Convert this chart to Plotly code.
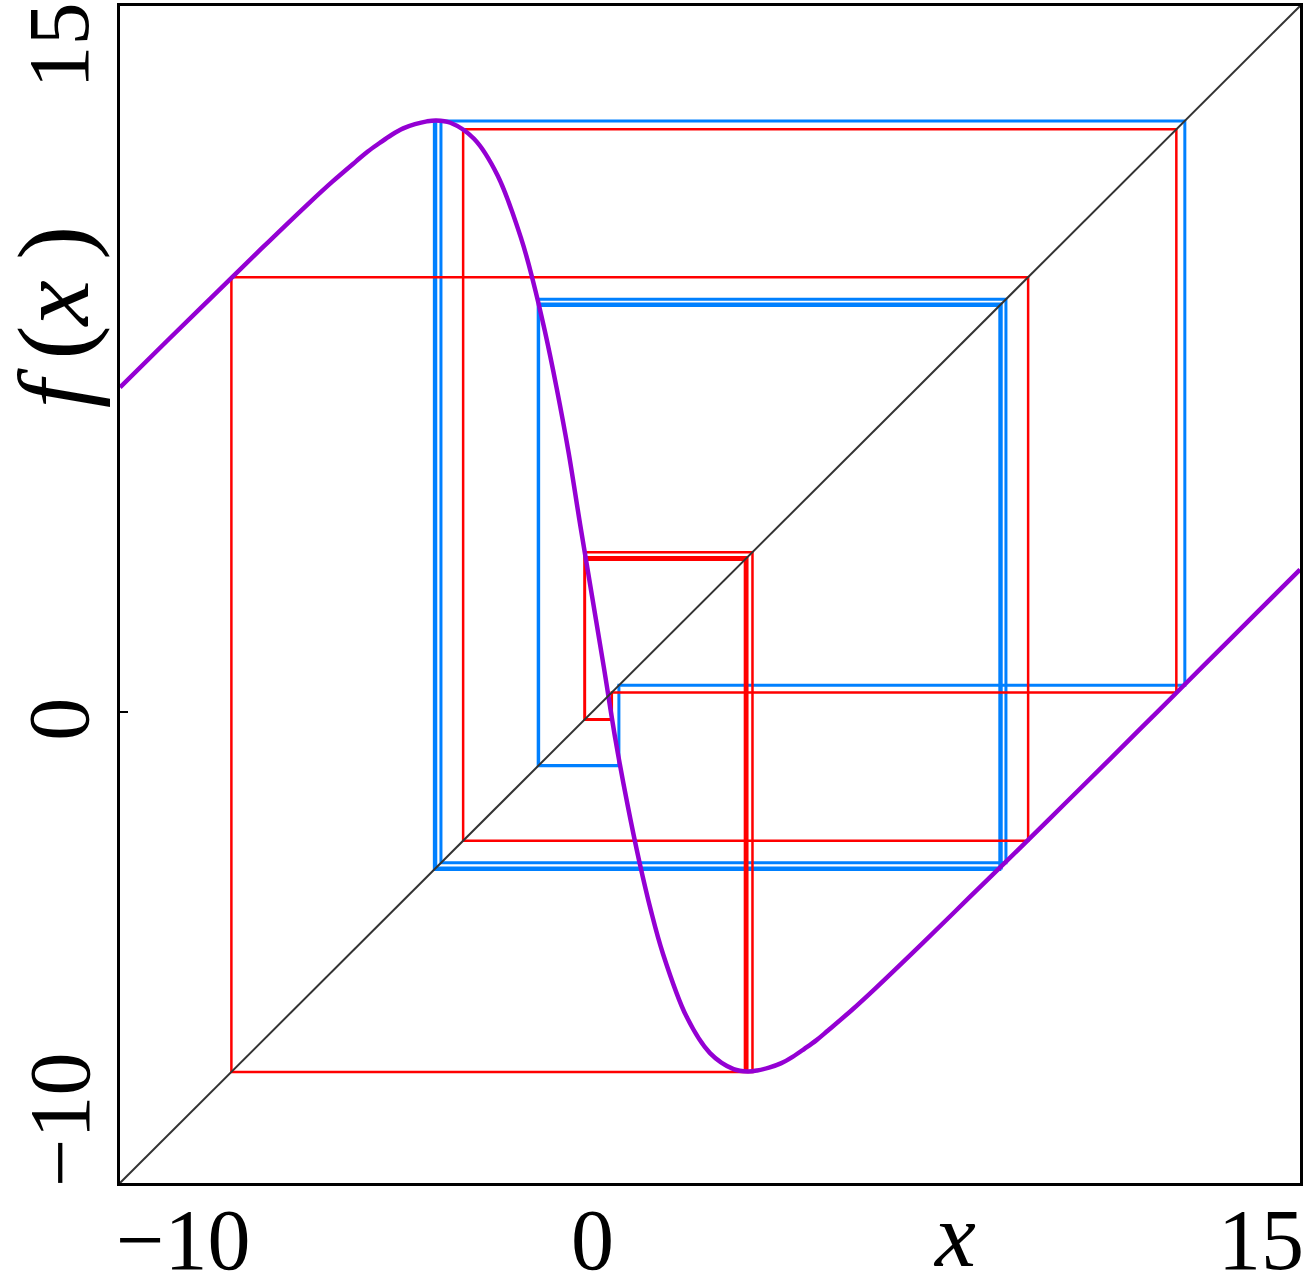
import plotly.graph_objects as go

# ---- data ----
curve_x = [-10, -9, -8, -7, -6, -5.5, -5, -4.75, -4.5, -4.25, -4, -3.75, -3.5, -3.3, -3,
           -2.5, -2, -1.5, -1.25, -1, -0.75, -0.5, -0.25, 0, 0.25, 0.5, 0.75, 1, 1.25,
           1.5, 2, 2.5, 3, 3.3, 3.5, 3.75, 4, 4.25, 4.5, 4.75, 5, 5.5, 6, 7, 8, 9, 10,
           11, 12, 13, 14, 15]
curve_y = [6.90, 7.89, 8.87, 9.85, 10.81, 11.27, 11.70, 11.91, 12.09, 12.26, 12.40, 12.49,
           12.55, 12.57, 12.52, 12.18, 11.40, 10.06, 9.16, 8.10, 6.89, 5.54, 3.98, 2.47,
           0.96, -0.60, -1.95, -3.16, -4.22, -5.12, -6.46, -7.24, -7.58, -7.63, -7.61,
           -7.55, -7.46, -7.32, -7.15, -6.97, -6.76, -6.33, -5.87, -4.91, -3.93, -2.95,
           -1.96, -0.97, 0.03, 1.03, 2.03, 3.03]

# iterates of the two cobweb orbits
red_orbit = [-0.15, 3.24, -7.64, 9.24, -2.73, 12.38, 0.42, -0.16, 3.29, -7.64, 9.24,
             -2.73, 12.38, 0.42, -0.15, 3.40, -7.64, 9.24, -2.73, 12.38, 0.42, -0.16]
blue_orbit = [-1.13, 8.64, -3.34, 12.56, 0.57, -1.13, 8.67, -3.31, 12.56, 0.57, -1.14,
              8.77, -3.20, 12.56, 0.57, -1.13]

diag = [-10, 15]
x_range = [-10, 15]
y_range = [-10, 15]
x_tick_vals = [-10, 0, 15]
x_tick_text = ["\u221210", "0", "15"]
y_tick_vals = [-10, 0, 15]
y_tick_text = ["\u221210", "0", "15"]


def cobweb(orbit):
    xs, ys = [orbit[0]], [orbit[0]]
    for a, b in zip(orbit[:-1], orbit[1:]):
        xs += [a, b]
        ys += [b, b]
    return xs, ys


FONT = "Liberation Serif, Times New Roman, serif"
fig = go.Figure()

bx, by = cobweb(blue_orbit)
fig.add_trace(go.Scatter(x=bx, y=by, mode="lines",
                         line=dict(color="#0080ff", width=3), hoverinfo="skip"))
rx, ry = cobweb(red_orbit)
fig.add_trace(go.Scatter(x=rx, y=ry, mode="lines",
                         line=dict(color="#ff0000", width=2.5), hoverinfo="skip"))
fig.add_trace(go.Scatter(x=curve_x, y=curve_y, mode="lines",
                         line=dict(color="#9400d3", width=4.5, shape="spline", smoothing=1.0),
                         hoverinfo="skip"))
fig.add_trace(go.Scatter(x=diag, y=diag, mode="lines",
                         line=dict(color="#333333", width=2), hoverinfo="skip"))

ann = []
# x tick labels
for v, t in zip(x_tick_vals, x_tick_text):
    if v == x_range[0]:
        xa, xs = "left", -6
    elif v == x_range[1]:
        xa, xs = "right", 6
    else:
        xa, xs = "center", 0
    ann.append(dict(x=v, y=-0.0483, xref="x", yref="paper", text=t, showarrow=False,
                    xanchor=xa, yanchor="middle", xshift=xs,
                    font=dict(family=FONT, size=86, color="black")))
# y tick labels (rotated)
for v, t in zip(y_tick_vals, y_tick_text):
    if v == y_range[0]:
        ya, ys = "bottom", -6
    elif v == y_range[1]:
        ya, ys = "top", 6
    else:
        ya, ys = "middle", -7
    ann.append(dict(x=-0.0513, y=v, xref="paper", yref="y", text=t, showarrow=False,
                    textangle=-90, xanchor="center", yanchor=ya, yshift=ys,
                    font=dict(family=FONT, size=86, color="black")))
# axis titles
ann.append(dict(x=0.7076, y=-0.0508, xref="paper", yref="paper", text="<i>x</i>",
                showarrow=False, xanchor="center", yanchor="middle", yshift=8,
                font=dict(family=FONT, size=92, color="black")))
ann.append(dict(x=-0.0568, y=0.7356, xref="paper", yref="paper",
                text="<i>f</i>\u2009(<i>x</i>\u2009)", showarrow=False, textangle=-90,
                xanchor="center", yanchor="middle",
                font=dict(family=FONT, size=102, color="black")))

fig.update_layout(
    width=1308, height=1275,
    margin=dict(l=120, r=8, t=3, b=92),
    paper_bgcolor="white", plot_bgcolor="white",
    showlegend=False,
    annotations=ann,
    xaxis=dict(range=x_range, showgrid=False, zeroline=False, showline=True,
               mirror=True, linecolor="black", linewidth=3, tickvals=[],
               showticklabels=False),
    yaxis=dict(range=y_range, showgrid=False, zeroline=False, showline=True,
               mirror=True, linecolor="black", linewidth=3, tickvals=[0],
               ticks="inside", ticklen=8, tickwidth=2, tickcolor="black",
               showticklabels=False),
)

fig.write_html("out.html", config={"displayModeBar": False},
               post_script="document.body.style.margin='0';document.body.style.overflow='hidden';")
